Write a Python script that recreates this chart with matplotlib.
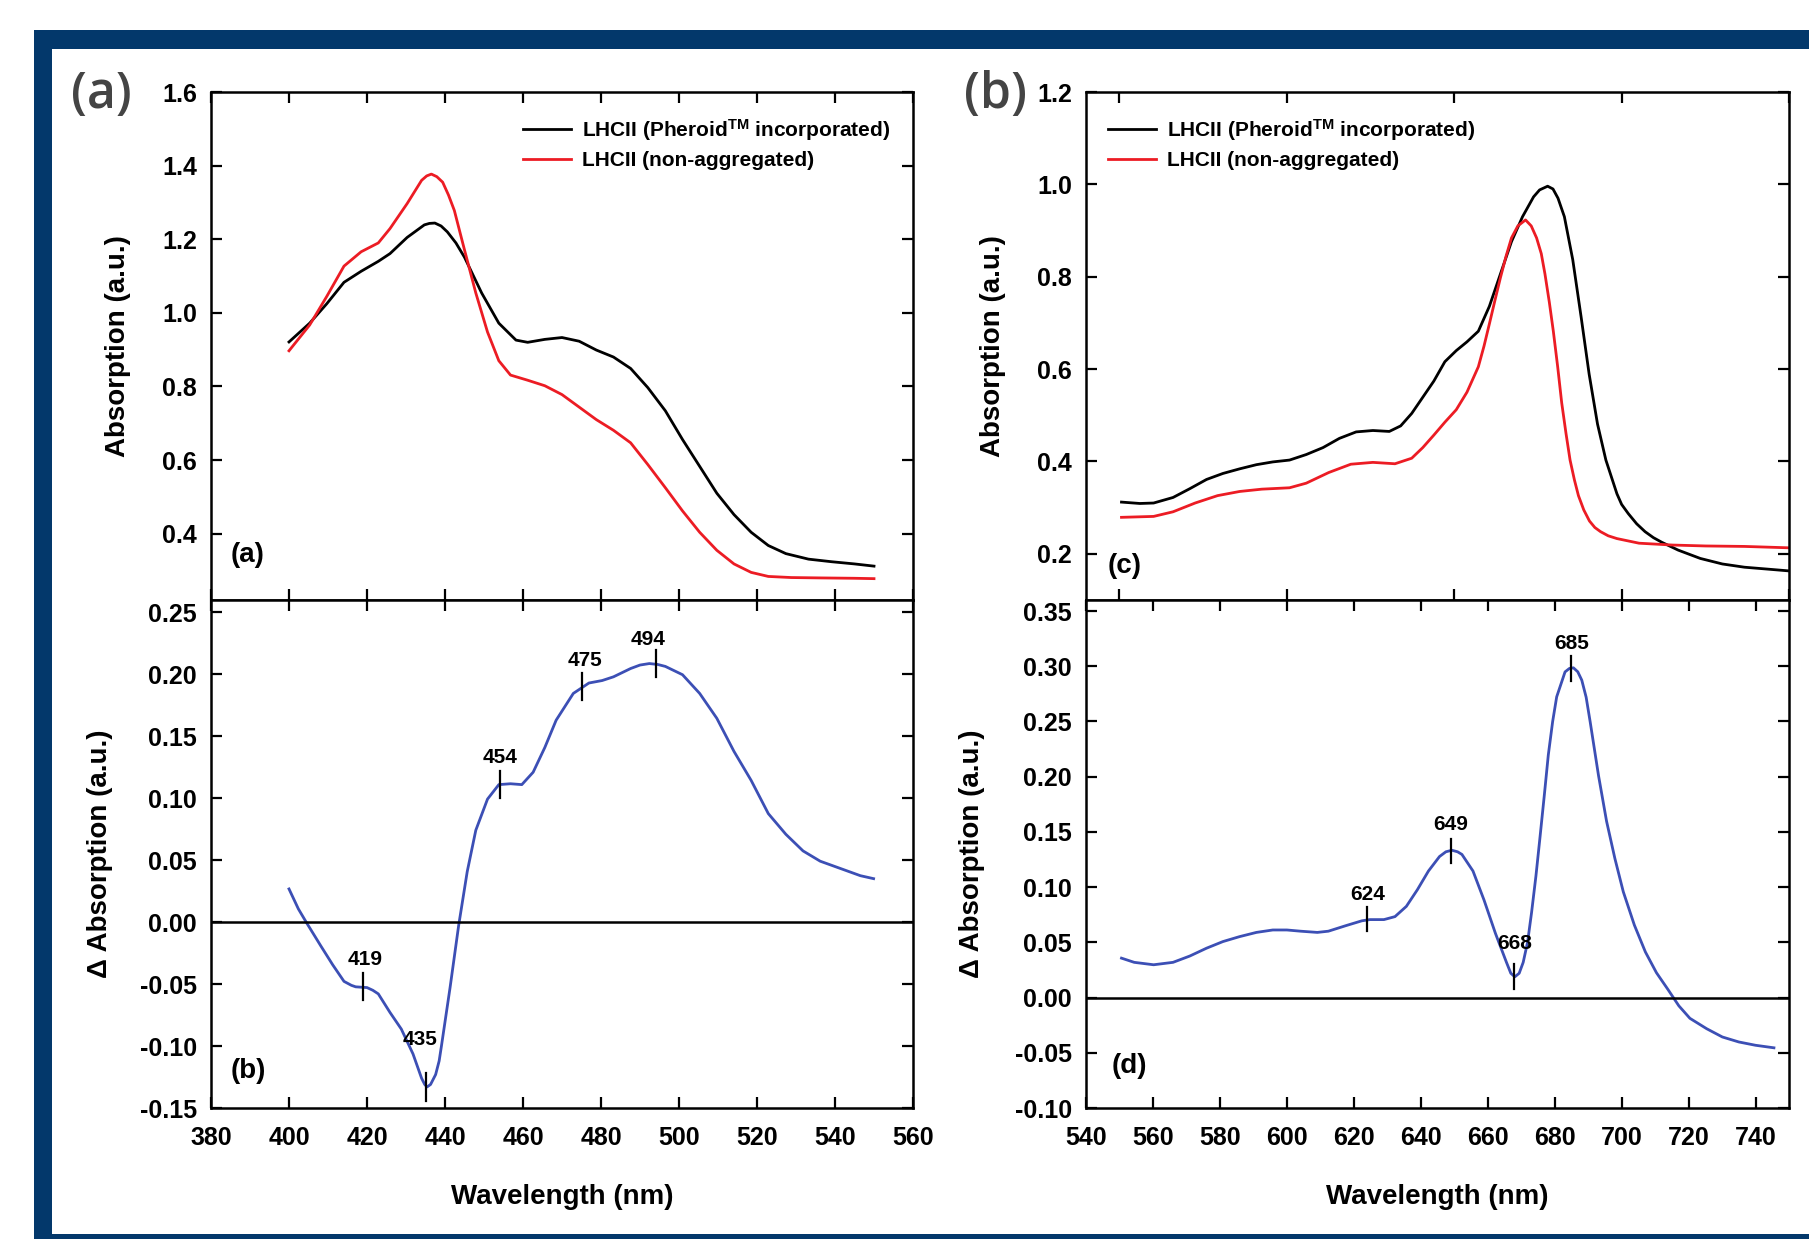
import matplotlib
matplotlib.use("Agg")
import matplotlib.pyplot as plt
from matplotlib import font_manager
from matplotlib.patches import Rectangle

# ── spectra: LHCII Soret region (400–550 nm) ─────────────────────────────────
wl_soret = [400, 405.3, 409.7, 414.1, 418.5, 422.9, 425.9, 430.3, 434.7, 436.0,
            437.4, 439.0, 440.6, 442.8, 445.0, 449.4, 453.8, 458.2, 461.2, 465.6,
            470.0, 474.4, 478.8, 483.2, 487.6, 492.0, 496.5, 500.9, 505.3, 509.7,
            514.1, 518.5, 522.9, 527.4, 533.2, 539.1, 545.0, 550.0]
pheroid_soret = [0.921, 0.972, 1.025, 1.083, 1.113, 1.140, 1.161, 1.205, 1.239, 1.243,
                 1.244, 1.236, 1.220, 1.190, 1.151, 1.054, 0.972, 0.926, 0.920, 0.928,
                 0.933, 0.923, 0.899, 0.880, 0.849, 0.797, 0.734, 0.656, 0.583, 0.510,
                 0.452, 0.404, 0.368, 0.346, 0.331, 0.324, 0.318, 0.312]

wl_soret_na = [400, 405.3, 409.7, 414.1, 418.5, 422.9, 425.9, 430.3, 434.0, 435.3,
               436.5, 437.9, 439.4, 440.9, 442.4, 445.0, 447.9, 450.9, 453.8, 456.8,
               461.2, 465.6, 470.0, 474.4, 478.8, 483.2, 487.6, 492.0, 496.5, 500.9,
               505.3, 509.7, 514.1, 518.5, 522.9, 528.8, 536.2, 545.0, 550.0]
nonagg_soret = [0.897, 0.967, 1.045, 1.127, 1.166, 1.190, 1.229, 1.297, 1.360, 1.372,
                1.377, 1.370, 1.355, 1.320, 1.278, 1.171, 1.054, 0.948, 0.870, 0.831,
                0.817, 0.802, 0.778, 0.744, 0.710, 0.681, 0.647, 0.588, 0.525, 0.462,
                0.404, 0.355, 0.318, 0.295, 0.284, 0.281, 0.280, 0.279, 0.278]

wl_diff_soret = [400, 402.4, 404.6, 408.2, 411.2, 414.1, 416.0, 417.1, 418.5, 420.0,
                 421.5, 422.9, 425.9, 428.8, 431.8, 434.0, 434.8, 435.4, 436.3, 437.6,
                 438.5, 439.1, 441.3, 443.5, 445.7, 447.9, 450.9, 453.8, 456.8, 459.7,
                 462.6, 465.6, 468.5, 472.9, 476.9, 480.3, 483.2, 487.6, 490.0, 492.4,
                 494.5, 496.5, 500.9, 505.3, 509.7, 514.1, 518.5, 522.9, 527.4, 531.8,
                 536.2, 542.1, 546.5, 549.9]
diff_soret = [0.0268, 0.0107, -0.001, -0.0194, -0.0344, -0.0478, -0.0510, -0.0522, -0.0525, -0.0528,
              -0.0550, -0.0579, -0.0729, -0.0863, -0.1064, -0.126, -0.131, -0.133, -0.131, -0.123,
              -0.112, -0.0997, -0.0528, -0.0027, 0.0408, 0.0742, 0.0993, 0.111, 0.1117, 0.111,
              0.121, 0.141, 0.163, 0.1846, 0.193, 0.195, 0.198, 0.2047, 0.2075, 0.2087,
              0.2080, 0.2064, 0.1997, 0.1846, 0.1645, 0.1378, 0.1144, 0.0876, 0.0709, 0.0575,
              0.0492, 0.0425, 0.0375, 0.0351]

# ── spectra: Qy region (550–750 nm) ──────────────────────────────────────────
wl_qy = [550.6, 556.1, 560.2, 566.0, 571.0, 576.0, 580.9, 585.9, 590.9, 595.8,
         600.8, 605.8, 610.8, 615.7, 620.7, 625.7, 630.6, 634.0, 637.3, 640.6,
         643.9, 647.2, 650.6, 653.8, 657.2, 660.5, 663.8, 667.1, 670.4, 673.7,
         675.5, 677.9, 679.5, 681.0, 682.9, 685.4, 687.9, 690.3, 692.8, 695.3,
         698.6, 700.0, 702.0, 704.5, 707.0, 709.5, 712.0, 716.9, 723.5, 730.1,
         736.7, 743.4, 750.0]
pheroid_qy = [0.312, 0.309, 0.310, 0.322, 0.341, 0.361, 0.374, 0.384, 0.393, 0.399,
              0.403, 0.415, 0.430, 0.450, 0.464, 0.467, 0.465, 0.477, 0.504, 0.539,
              0.574, 0.616, 0.640, 0.659, 0.682, 0.736, 0.806, 0.876, 0.930, 0.973,
              0.988, 0.996, 0.990, 0.970, 0.930, 0.837, 0.713, 0.589, 0.481, 0.403,
              0.330, 0.307, 0.287, 0.265, 0.248, 0.235, 0.225, 0.208, 0.190, 0.178,
              0.171, 0.167, 0.163]

wl_qy_na = [550.6, 560.2, 566.0, 572.6, 579.3, 585.9, 592.5, 600.8, 605.8, 612.5,
            619.1, 625.7, 632.3, 637.3, 640.6, 643.9, 647.2, 650.6, 653.8, 657.2,
            658.9, 660.5, 662.2, 663.8, 665.5, 667.1, 669.0, 671.3, 673.0, 674.6,
            676.0, 677.1, 678.4, 679.6, 680.9, 682.1, 683.4, 684.6, 685.9, 687.1,
            688.7, 690.4, 692.0, 693.7, 696.0, 698.6, 705.2, 715.2, 725.1, 736.7,
            750.0]
nonagg_qy = [0.279, 0.281, 0.291, 0.310, 0.326, 0.335, 0.340, 0.343, 0.353, 0.376,
             0.394, 0.398, 0.395, 0.407, 0.430, 0.457, 0.485, 0.512, 0.550, 0.605,
             0.650, 0.698, 0.750, 0.798, 0.845, 0.884, 0.910, 0.923, 0.910, 0.884,
             0.850, 0.806, 0.745, 0.682, 0.605, 0.527, 0.460, 0.403, 0.360, 0.326,
             0.295, 0.271, 0.257, 0.248, 0.239, 0.233, 0.223, 0.219, 0.217, 0.216,
             0.213]

wl_diff_qy = [550.6, 554.4, 560.2, 566.0, 571.0, 576.0, 580.9, 585.9, 590.9, 595.8,
              600.0, 604.1, 609.1, 612.4, 617.5, 622.4, 624.8, 629.0, 632.3, 635.7,
              639.0, 642.3, 645.6, 647.5, 649.3, 651.0, 652.3, 655.6, 658.9, 662.3,
              665.6, 666.9, 668.1, 669.4, 670.6, 671.9, 673.1, 674.4, 675.6, 676.9,
              678.1, 679.4, 680.6, 683.1, 684.4, 685.6, 686.9, 688.1, 689.4, 690.6,
              693.1, 695.5, 698.0, 700.5, 703.8, 707.1, 710.4, 713.8, 717.1, 720.4,
              725.4, 730.1, 735.0, 740.0, 745.5]
diff_qy = [0.0357, 0.0319, 0.0297, 0.0319, 0.0376, 0.0447, 0.0507, 0.0552, 0.059, 0.0612,
           0.0612, 0.0601, 0.059, 0.0601, 0.065, 0.0695, 0.0706, 0.0706, 0.0733, 0.0826,
           0.0977, 0.1146, 0.1277, 0.132, 0.1334, 0.132, 0.1296, 0.1146, 0.0883, 0.0582,
           0.0319, 0.022, 0.0188, 0.022, 0.0319, 0.050, 0.077, 0.110, 0.1446, 0.183,
           0.2197, 0.250, 0.2723, 0.2949, 0.298, 0.2986, 0.295, 0.2874, 0.272, 0.2498,
           0.201, 0.1597, 0.1258, 0.0958, 0.0657, 0.0413, 0.0225, 0.0075, -0.0075, -0.0188,
           -0.0282, -0.0357, -0.0402, -0.0432, -0.0455]

# marked features of the difference spectra: wavelength, curve value
peaks_soret = [419, 435, 454, 475, 494]
peaks_soret_val = [-0.052, -0.133, 0.111, 0.190, 0.209]
peaks_qy = [624, 649, 668, 685]
peaks_qy_val = [0.071, 0.133, 0.019, 0.298]

LEGEND_LABELS = [r"LHCII (Pheroid$^{\rm TM}$ incorporated)", "LHCII (non-aggregated)"]

FRAME = "#03386b"
DIFF_BLUE = "#3c4fb5"
RED = "#ec1c24"

_names = {f.name for f in font_manager.fontManager.ttflist}
NARROW = "Liberation Sans Narrow" if "Liberation Sans Narrow" in _names else "Liberation Sans"

plt.rcParams["font.family"] = ["Liberation Sans", "DejaVu Sans"]
plt.rcParams["font.weight"] = "bold"
plt.rcParams["axes.unicode_minus"] = False
plt.rcParams["mathtext.fontset"] = "custom"
plt.rcParams["mathtext.rm"] = NARROW + ":bold"
plt.rcParams["mathtext.it"] = NARROW + ":bold"
plt.rcParams["mathtext.bf"] = NARROW + ":bold"

fig = plt.figure(figsize=(18.09, 12.39), dpi=100)
fig.patch.set_facecolor("white")

# dark blue border round the figure
fig.add_artist(Rectangle((34 / 1809, 0), 1.0, 1 - 30 / 1239, transform=fig.transFigure,
                         facecolor=FRAME, edgecolor="none", zorder=-2))
fig.add_artist(Rectangle((52 / 1809, 5 / 1239), 1.0, 1 - 49 / 1239 - 5 / 1239,
                         transform=fig.transFigure, facecolor="white", edgecolor="none",
                         zorder=-1))

LX0, LX1 = 211 / 1809, 913 / 1809
RX0, RX1 = 1086 / 1809, 1789 / 1809
YT, YM, YB = 1 - 92 / 1239, 1 - 600 / 1239, 1 - 1108 / 1239

ax_a = fig.add_axes([LX0, YM, LX1 - LX0, YT - YM])
ax_b = fig.add_axes([LX0, YB, LX1 - LX0, YM - YB])
ax_c = fig.add_axes([RX0, YM, RX1 - RX0, YT - YM])
ax_d = fig.add_axes([RX0, YB, RX1 - RX0, YM - YB])

LABEL_FS = 20
TICK_FS = 18


def style(ax):
    ax.tick_params(direction="in", length=8, width=1.6, top=True, right=True,
                   labelsize=TICK_FS, pad=10)
    ax.tick_params(axis="x", pad=13)
    for sp in ax.spines.values():
        sp.set_linewidth(1.8)


for ax in (ax_a, ax_b, ax_c, ax_d):
    style(ax)

# (a) Soret absorption
ax_a.plot(wl_soret, pheroid_soret, color="black", lw=2, label=LEGEND_LABELS[0])
ax_a.plot(wl_soret_na, nonagg_soret, color=RED, lw=2, label=LEGEND_LABELS[1])
ax_a.set_xlim(380, 560)
ax_a.set_ylim(0.22, 1.6)
ax_a.set_xticks(range(380, 561, 20))
ax_a.set_yticks([0.4, 0.6, 0.8, 1.0, 1.2, 1.4, 1.6])
ax_a.set_yticklabels(["0.4", "0.6", "0.8", "1.0", "1.2", "1.4", "1.6"])
ax_a.tick_params(labelbottom=False)
ax_a.set_ylabel("Absorption (a.u.)", fontsize=LABEL_FS, fontweight="bold")
ax_a.yaxis.set_label_coords(-0.114, 0.5)

# (b) Soret difference
ax_b.plot(wl_diff_soret, diff_soret, color=DIFF_BLUE, lw=2)
ax_b.axhline(0, color="black", lw=1.8)
ax_b.set_xlim(380, 560)
ax_b.set_ylim(-0.15, 0.26)
ax_b.set_xticks(range(380, 561, 20))
ax_b.set_yticks([-0.15, -0.10, -0.05, 0.0, 0.05, 0.10, 0.15, 0.20, 0.25])
ax_b.set_yticklabels(["-0.15", "-0.10", "-0.05", "0.00", "0.05", "0.10", "0.15", "0.20", "0.25"])
ax_b.set_ylabel("\u0394 Absorption (a.u.)", fontsize=LABEL_FS, fontweight="bold")
ax_b.yaxis.set_label_coords(-0.140, 0.5)
ax_b.set_xlabel("Wavelength (nm)", fontsize=LABEL_FS, fontweight="bold")
ax_b.xaxis.set_label_coords(0.5, -0.150)

# (c) Qy absorption
ax_c.plot(wl_qy, pheroid_qy, color="black", lw=2, label=LEGEND_LABELS[0])
ax_c.plot(wl_qy_na, nonagg_qy, color=RED, lw=2, label=LEGEND_LABELS[1])
ax_c.set_xlim(540, 750)
ax_c.set_ylim(0.1, 1.2)
ax_c.set_xticks(range(550, 751, 50))
ax_c.set_yticks([0.2, 0.4, 0.6, 0.8, 1.0, 1.2])
ax_c.set_yticklabels(["0.2", "0.4", "0.6", "0.8", "1.0", "1.2"])
ax_c.tick_params(labelbottom=False)
ax_c.set_ylabel("Absorption (a.u.)", fontsize=LABEL_FS, fontweight="bold")
ax_c.yaxis.set_label_coords(-0.114, 0.5)

# (d) Qy difference
ax_d.plot(wl_diff_qy, diff_qy, color=DIFF_BLUE, lw=2)
ax_d.axhline(0, color="black", lw=1.8)
ax_d.set_xlim(540, 750)
ax_d.set_ylim(-0.10, 0.36)
ax_d.set_xticks(range(540, 741, 20))
ax_d.set_yticks([-0.10, -0.05, 0.0, 0.05, 0.10, 0.15, 0.20, 0.25, 0.30, 0.35])
ax_d.set_yticklabels(["-0.10", "-0.05", "0.00", "0.05", "0.10", "0.15", "0.20",
                      "0.25", "0.30", "0.35"])
ax_d.set_ylabel("\u0394 Absorption (a.u.)", fontsize=LABEL_FS, fontweight="bold")
ax_d.yaxis.set_label_coords(-0.143, 0.5)
ax_d.set_xlabel("Wavelength (nm)", fontsize=LABEL_FS, fontweight="bold")
ax_d.xaxis.set_label_coords(0.5, -0.150)

# legends
for ax, xa in ((ax_a, 0.444), (ax_c, 0.031)):
    ax.legend(loc="upper left", bbox_to_anchor=(xa, 0.951), frameon=False,
              prop={"family": NARROW, "weight": "bold", "size": 15},
              handlelength=2.3, handletextpad=0.55, labelspacing=0.4,
              borderpad=0, borderaxespad=0)


# feature markers on the difference spectra
def mark(ax, xs, vals, half, lab_dy, lab_dx):
    for x, v, dy, dx in zip(xs, vals, lab_dy, lab_dx):
        ax.plot([x, x], [v - half, v + half], color="black", lw=1.6)
        ax.text(x + dx, v + dy, str(x), ha="center", va="center",
                family=NARROW, fontweight="bold", fontsize=15)


mark(ax_b, peaks_soret, peaks_soret_val, 0.011,
     [0.022, 0.038, 0.022, 0.021, 0.019], [0.5, -1.5, 0, 1, -2])
mark(ax_d, peaks_qy, peaks_qy_val, 0.011,
     [0.022, 0.024, 0.030, 0.023], [0, 0, 0, 0])

# panel letters inside the axes
for ax, lab, x, y in ((ax_a, "(a)", 0.028, 0.089), (ax_b, "(b)", 0.028, 0.072),
                      (ax_c, "(c)", 0.031, 0.067), (ax_d, "(d)", 0.036, 0.083)):
    ax.text(x, y, lab, transform=ax.transAxes, ha="left", va="center",
            fontsize=LABEL_FS, fontweight="bold")

# figure-level panel tags
for lab, x in (("(a)", 101 / 1809), ("(b)", 995 / 1809)):
    fig.text(x, 1 - 95 / 1239, lab, ha="center", va="center", fontsize=36,
             family=["Open Sans", "DejaVu Sans"], fontweight="semibold", color="#444444")

fig.savefig("out.png", dpi=100)
